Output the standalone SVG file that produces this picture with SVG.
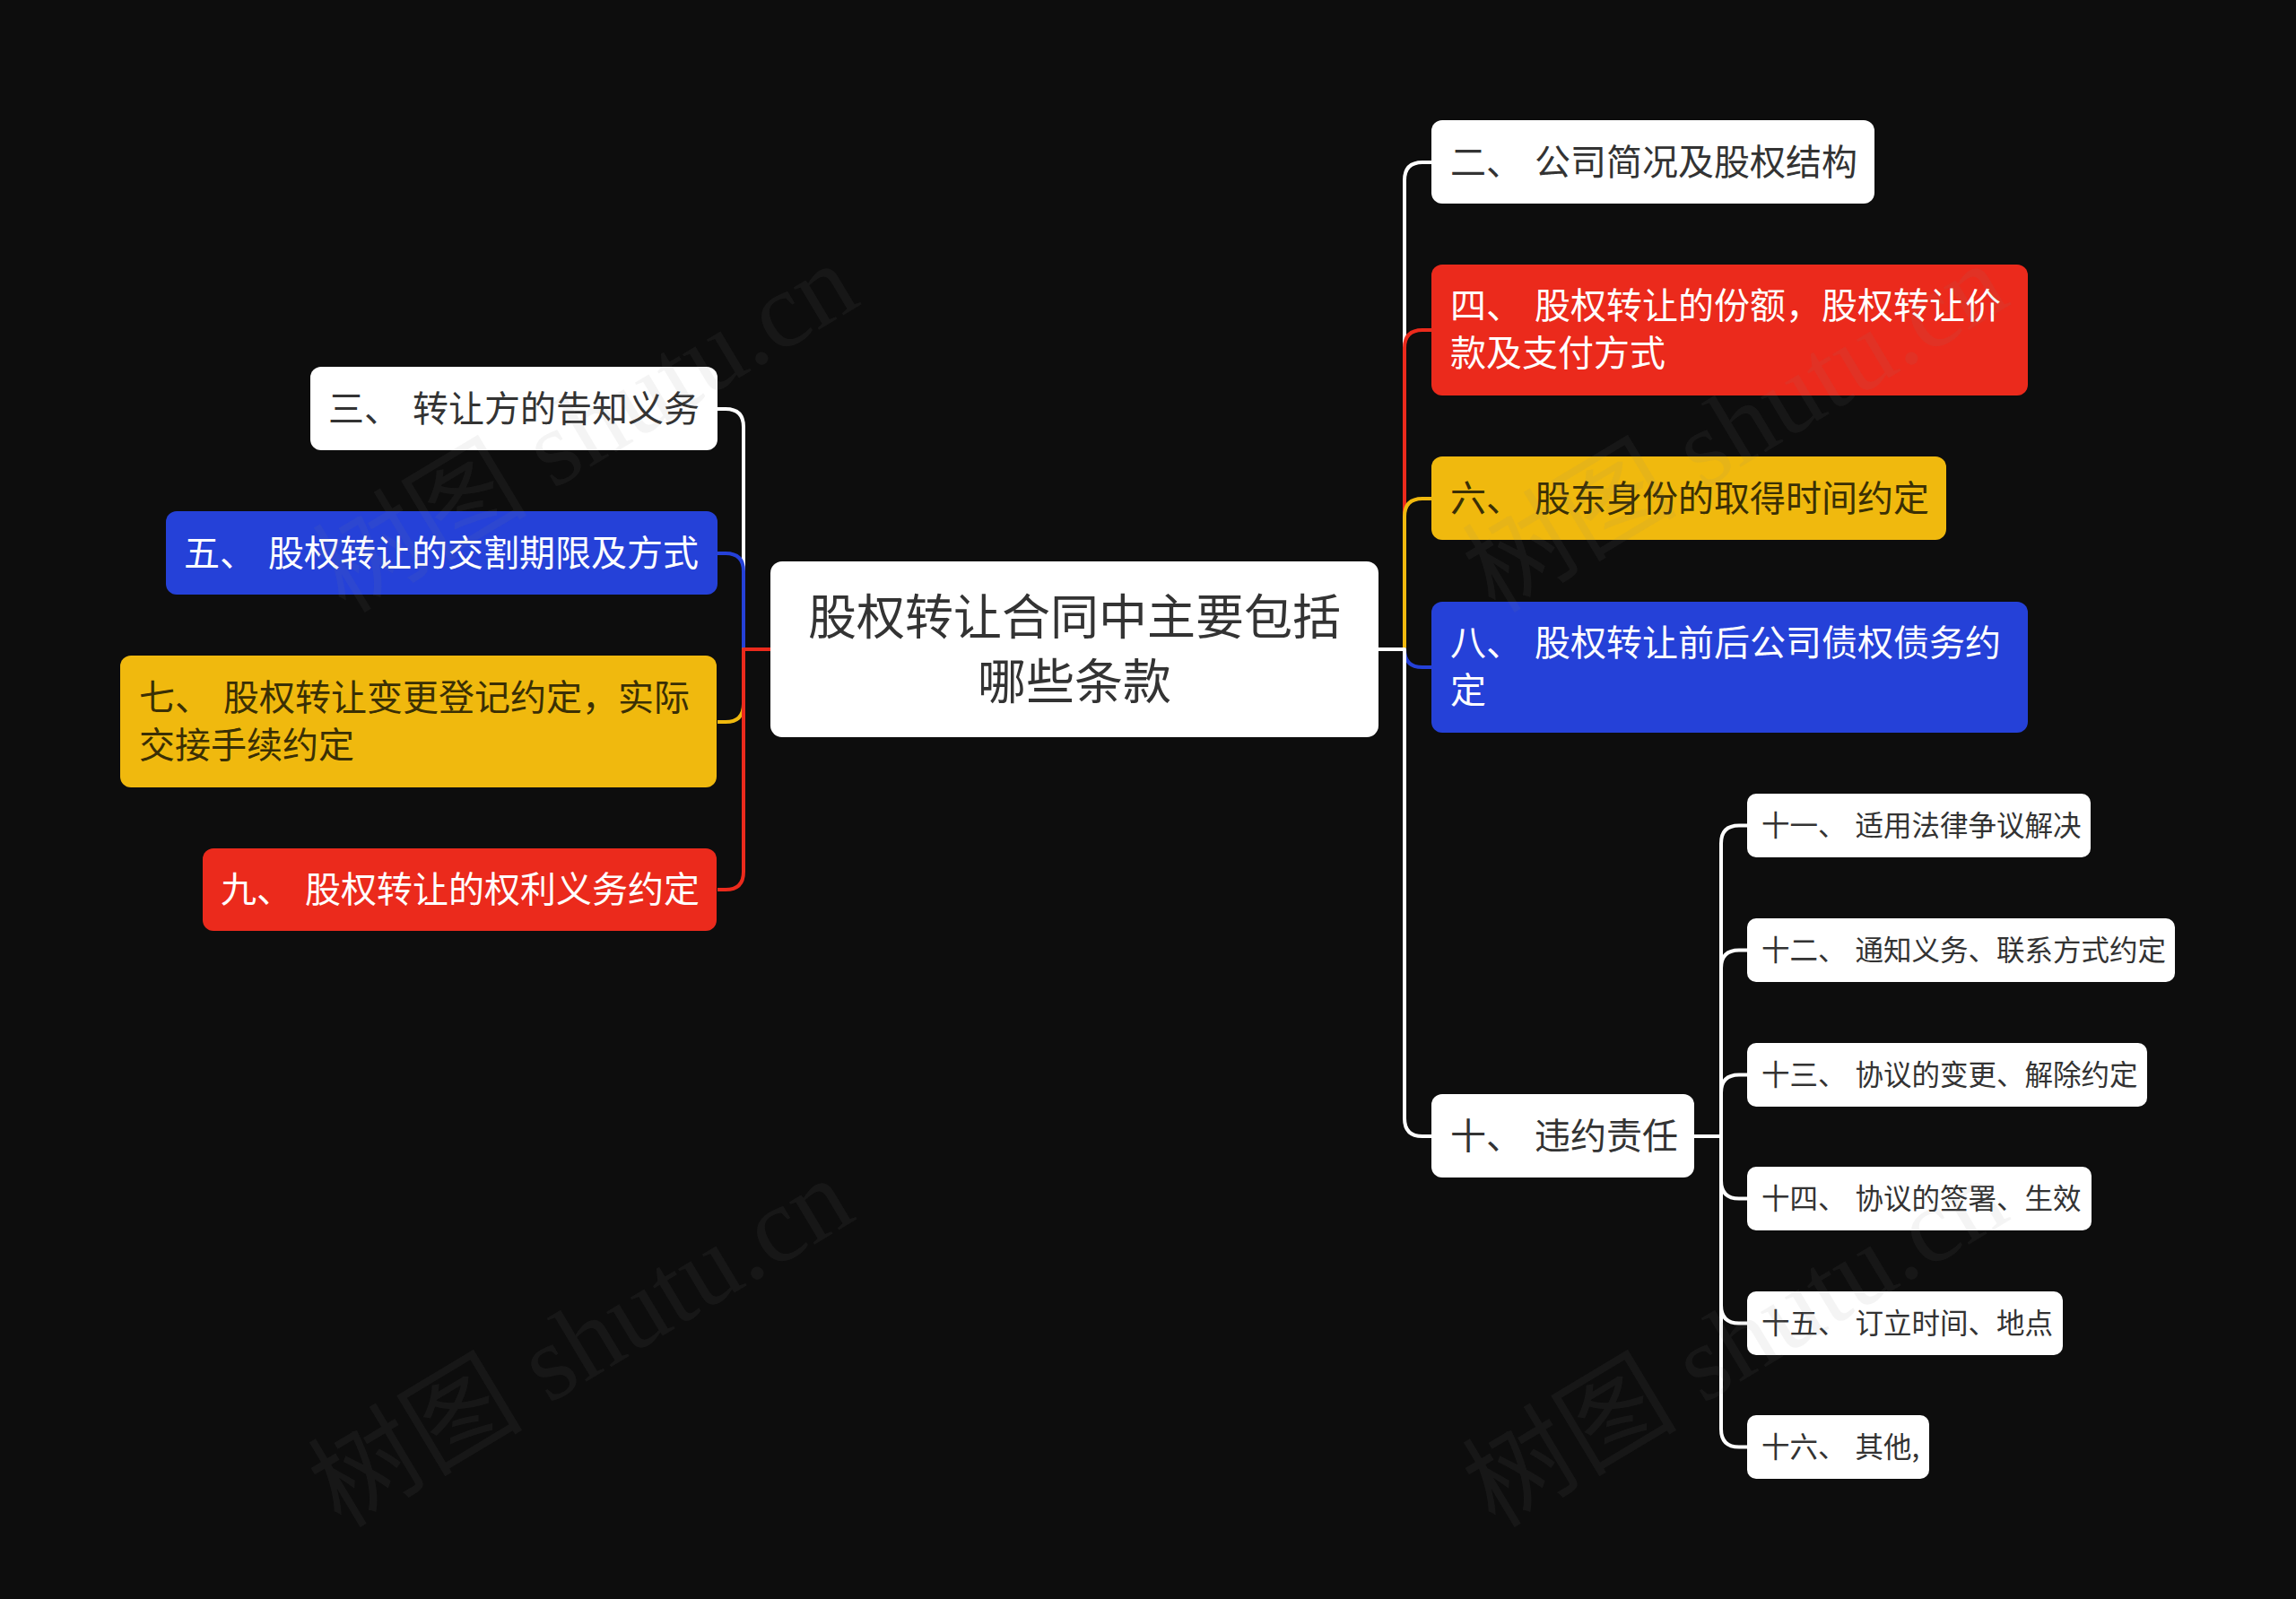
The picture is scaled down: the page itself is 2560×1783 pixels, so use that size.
<svg xmlns="http://www.w3.org/2000/svg" width="2560" height="1783" viewBox="0 0 2560 1783">
<style>
.t{font-family:"Noto Sans CJK SC","Noto Sans",sans-serif}
.c{fill:none;stroke-width:4;stroke-linejoin:round}
.w{fill:#ffffff}.wt{fill:#333333}
.r{fill:#eb2a1c}.rt{fill:#ffffff}
.y{fill:#f0b90e}.yt{fill:#3a2f05}
.b{fill:#2541d8}.bt{fill:#ffffff}
.l1{font-size:40px;word-spacing:5px}.l2{font-size:31.5px;word-spacing:3px}.l0{font-size:54px}
.wm{font-family:"Liberation Serif","Noto Sans CJK SC",serif;font-size:120px;fill:#8a8a8a;fill-opacity:0.09}
</style>
<rect x="0" y="0" width="2560" height="1783" fill="#0d0d0d"/>
<g id="connectors">
<path class="c" stroke="#ffffff" d="M859,724 H829 V476 Q829,456 809,456 H800"/>
<path class="c" stroke="#2541d8" d="M859,724 H829 V637 Q829,617 809,617 H800"/>
<path class="c" stroke="#f0b90e" d="M859,724 H829 V785 Q829,805 809,805 H800"/>
<path class="c" stroke="#eb2a1c" d="M859,724 H829 V972 Q829,992 809,992 H800"/>
<path class="c" stroke="#ffffff" d="M1537,724 H1566 V201 Q1566,181 1586,181 H1596"/>
<path class="c" stroke="#eb2a1c" d="M1537,724 H1566 V388 Q1566,368 1586,368 H1596"/>
<path class="c" stroke="#f0b90e" d="M1537,724 H1566 V576 Q1566,556 1586,556 H1596"/>
<path class="c" stroke="#2541d8" d="M1537,724 H1566 Q1566,744 1586,744 H1596"/>
<path class="c" stroke="#ffffff" d="M1537,724 H1566 V1247 Q1566,1267 1586,1267 H1596"/>
<path class="c" stroke="#ffffff" d="M1889,1267 H1919 V940.5 Q1919,920.5 1939,920.5 H1948"/>
<path class="c" stroke="#ffffff" d="M1889,1267 H1919 V1079.5 Q1919,1059.5 1939,1059.5 H1948"/>
<path class="c" stroke="#ffffff" d="M1889,1267 H1919 V1218.5 Q1919,1198.5 1939,1198.5 H1948"/>
<path class="c" stroke="#ffffff" d="M1889,1267 H1919 V1316.5 Q1919,1336.5 1939,1336.5 H1948"/>
<path class="c" stroke="#ffffff" d="M1889,1267 H1919 V1455.5 Q1919,1475.5 1939,1475.5 H1948"/>
<path class="c" stroke="#ffffff" d="M1889,1267 H1919 V1593.5 Q1919,1613.5 1939,1613.5 H1948"/>
</g>
<g id="root">
<rect class="w" x="859" y="626" width="678" height="196" rx="13"/>
<text class="t l0 wt" x="1198" y="708" text-anchor="middle">股权转让合同中主要包括</text>
<text class="t l0 wt" x="1198" y="780" text-anchor="middle">哪些条款</text>
</g>
<g id="n3">
<rect class="w" x="346" y="409" width="454" height="93" rx="12"/>
<text class="t l1 wt" x="366" y="470">三、 转让方的告知义务</text>
</g>
<g id="n5">
<rect class="b" x="185" y="570" width="615" height="93" rx="12"/>
<text class="t l1 bt" x="205" y="631">五、 股权转让的交割期限及方式</text>
</g>
<g id="n7">
<rect class="y" x="134" y="731" width="665" height="147" rx="12"/>
<text class="t l1 yt" x="155" y="792">七、 股权转让变更登记约定，实际</text>
<text class="t l1 yt" x="155" y="845">交接手续约定</text>
</g>
<g id="n9">
<rect class="r" x="226" y="946" width="573" height="92" rx="12"/>
<text class="t l1 rt" x="246" y="1006">九、 股权转让的权利义务约定</text>
</g>
<g id="n2">
<rect class="w" x="1596" y="134" width="494" height="93" rx="12"/>
<text class="t l1 wt" x="1617" y="195">二、 公司简况及股权结构</text>
</g>
<g id="n4">
<rect class="r" x="1596" y="295" width="665" height="146" rx="12"/>
<text class="t l1 rt" x="1617" y="355">四、 股权转让的份额，股权转让价</text>
<text class="t l1 rt" x="1617" y="408">款及支付方式</text>
</g>
<g id="n6">
<rect class="y" x="1596" y="509" width="574" height="93" rx="12"/>
<text class="t l1 yt" x="1617" y="570">六、 股东身份的取得时间约定</text>
</g>
<g id="n8">
<rect class="b" x="1596" y="671" width="665" height="146" rx="12"/>
<text class="t l1 bt" x="1617" y="731">八、 股权转让前后公司债权债务约</text>
<text class="t l1 bt" x="1617" y="784">定</text>
</g>
<g id="n10">
<rect class="w" x="1596" y="1220" width="293" height="93" rx="12"/>
<text class="t l1 wt" x="1617" y="1281">十、 违约责任</text>
</g>
<g id="n11">
<rect class="w" x="1948" y="885" width="383" height="71" rx="10"/>
<text class="t l2 wt" x="1964" y="932">十一、 适用法律争议解决</text>
</g>
<g id="n12">
<rect class="w" x="1948" y="1024" width="477" height="71" rx="10"/>
<text class="t l2 wt" x="1964" y="1071">十二、 通知义务、联系方式约定</text>
</g>
<g id="n13">
<rect class="w" x="1948" y="1163" width="446" height="71" rx="10"/>
<text class="t l2 wt" x="1964" y="1210">十三、 协议的变更、解除约定</text>
</g>
<g id="n14">
<rect class="w" x="1948" y="1301" width="384" height="71" rx="10"/>
<text class="t l2 wt" x="1964" y="1348">十四、 协议的签署、生效</text>
</g>
<g id="n15">
<rect class="w" x="1948" y="1440" width="352" height="71" rx="10"/>
<text class="t l2 wt" x="1964" y="1487">十五、 订立时间、地点</text>
</g>
<g id="n16">
<rect class="w" x="1948" y="1578" width="203" height="71" rx="10"/>
<text class="t l2 wt" x="1964" y="1625">十六、 其他,</text>
</g>
<g id="watermarks">
<text class="wm" x="385" y="685" transform="rotate(-31 385 685)">树图 shutu.cn</text>
<text class="wm" x="1667" y="685" transform="rotate(-31 1667 685)">树图 shutu.cn</text>
<text class="wm" x="380" y="1705" transform="rotate(-31 380 1705)">树图 shutu.cn</text>
<text class="wm" x="1667" y="1705" transform="rotate(-31 1667 1705)">树图 shutu.cn</text>
</g>
</svg>
